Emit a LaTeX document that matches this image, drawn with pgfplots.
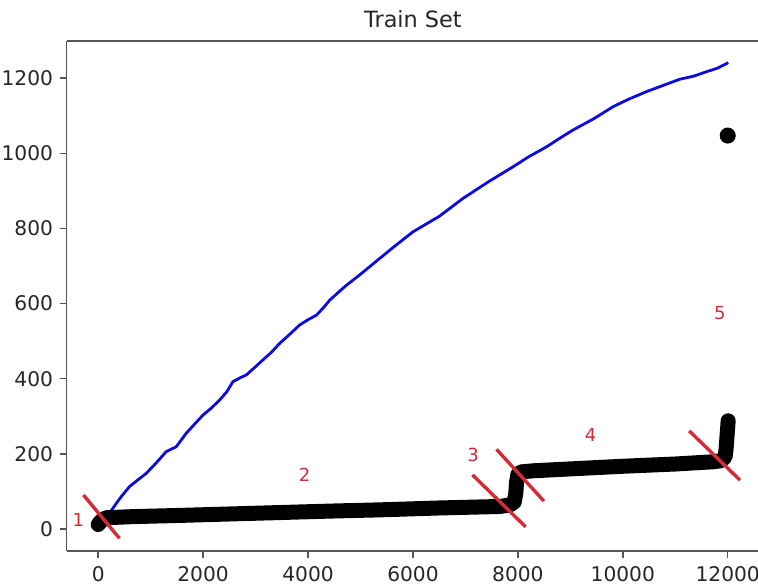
\documentclass[border=0pt]{standalone}
\usepackage{fontspec}
\setmainfont{DejaVu Sans}
\usepackage{pgfplots}
\pgfplotsset{compat=1.18}
\definecolor{annred}{RGB}{210,45,55}
\definecolor{lineblue}{RGB}{10,10,225}
\definecolor{spine}{RGB}{85,85,85}
\begin{document}
\begin{tikzpicture}
\useasboundingbox (0,0) rectangle (379pt,292pt);
\begin{axis}[
  at={(33.35pt,16.5pt)}, anchor=south west,
  scale only axis, width=346.25pt, height=255pt,
  xmin=-600, xmax=12600, ymin=-58.5, ymax=1298.6,
  axis x line*=box, axis y line*=left,
  xtick pos=bottom, ytick pos=left,
  axis line style={spine, line width=0.7pt},
  xtick={0,2000,4000,6000,8000,10000,12000},
  ytick={0,200,400,600,800,1000,1200},
  tick align=outside, major tick length=3.3pt,
  tick style={spine, line width=0.7pt},
  scaled ticks=false,
  /pgf/number format/.cd, 1000 sep={}, assume math mode=true, /pgfplots/.cd,
  tick label style={font=\fontsize{10.1}{12}\selectfont, text=black!85},
  xticklabel style={yshift=-1pt},
  every axis title shift=0pt,
  title={Train Set},
  title style={at={(0.5,1)}, anchor=base, yshift=6.5pt, font=\fontsize{11.2}{13}\selectfont, text=black!85},
  clip=false,
]
% blue curve
\addplot[lineblue, line width=1.4pt, line join=round] coordinates {
(0,3) (100,20) (216,42) (343,68) (450,88) (597,113) (750,130) (915,148) (1100,175) (1297,206) (1488,219) (1679,255) (1850,281) (1996,303) (2150,321) (2314,343) (2450,365) (2568,392) (2700,402) (2823,410) (3000,432) (3140,450) (3300,470) (3459,494) (3650,518) (3840,543) (4000,557) (4159,569) (4300,590) (4413,609) (4700,645) (5000,678) (5366,720) (5700,758) (6002,791) (6500,832) (6956,880) (7450,925) (7909,964) (8200,990) (8546,1017) (8800,1040) (9054,1062) (9450,1092) (9817,1124) (10100,1143) (10453,1164) (10800,1182) (11090,1197) (11350,1205) (11599,1217) (11800,1226) (12011,1241)
};
% black thick band
\addplot[black, line width=7.5pt, line cap=round, line join=round] coordinates {
(0,12) (60,22) (150,30) (660,33) (1500,36) (2500,40) (3500,44) (4500,48) (5366,51) (6500,56) (7656,60) (7850,64) (7930,72) (7960,95) (7975,125) (8000,145) (8060,152) (8300,155) (9000,160) (10000,167) (11000,173) (11725,179) (11880,182) (11950,192) (11970,215) (11985,245) (11998,268) (12008,288)
};
\addplot[only marks, mark=*, mark size=3.8pt, black] coordinates {(12000,1047)};
% red annotation strokes
\addplot[annred, line width=1.7pt] coordinates {(-280,90.5) (406,-25)};
\addplot[annred, line width=1.7pt] coordinates {(7135,144) (8146,6)};
\addplot[annred, line width=1.7pt] coordinates {(7593,212) (8495,74.5)};
\addplot[annred, line width=1.7pt] coordinates {(11267,261) (12234,130)};
\node[text=annred, font=\fontsize{9}{10}\selectfont] at (axis cs:-376,24) {1};
\node[text=annred, font=\fontsize{9}{10}\selectfont] at (axis cs:3935,144) {2};
\node[text=annred, font=\fontsize{9}{10}\selectfont] at (axis cs:7146,197) {3};
\node[text=annred, font=\fontsize{9}{10}\selectfont] at (axis cs:9386,250) {4};
\node[text=annred, font=\fontsize{9}{10}\selectfont] at (axis cs:11852,574) {5};
\end{axis}
\end{tikzpicture}
\end{document}
